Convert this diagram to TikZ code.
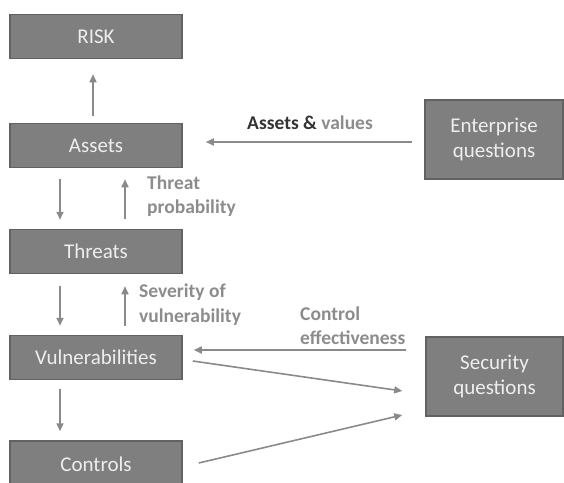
\documentclass[tikz,border=0pt]{standalone}
\usepackage{fontspec}
\setmainfont{Carlito}
\usetikzlibrary{arrows.meta}
\definecolor{boxgray}{RGB}{127,127,127}
\definecolor{boxedge}{RGB}{98,98,98}
\definecolor{linegray}{RGB}{138,138,138}
\definecolor{labelgray}{RGB}{140,140,140}
\definecolor{boxtext}{RGB}{238,238,238}

\begin{document}
\begin{tikzpicture}[x=1pt,y=-1pt,>={Triangle[length=8pt,width=7pt]},
  block/.style={draw=boxedge,line width=1.5pt,fill=boxgray,text=boxtext,
    font=\fontsize{21}{25}\selectfont,minimum width=172pt,minimum height=44pt,
    inner sep=0pt,align=center},
  flow/.style={->,draw=linegray,line width=1.6pt},
  tag/.style={text=labelgray,font=\bfseries\fontsize{19.5}{24.5}\selectfont,
    align=left,inner sep=0pt}]
  \useasboundingbox (0,0) rectangle (564,482);
  % left column
  \node[block] (risk) at (96,36.5) {RISK};
  \node[block] (assets) at (96,145.5) {Assets};
  \node[block] (threats) at (96,251.5) {Threats};
  \node[block] (vuln) at (96,357.5) {Vulnerabilities};
  \node[block,minimum height=46pt] (controls) at (96,464) {Controls};
  % question boxes
  \node[block,minimum width=138pt,minimum height=79pt] (enterprise) at (494,139.5) {Enterprise\\questions};
  \node[block,minimum width=137pt,minimum height=79pt] (security) at (494.5,376.5) {Security\\questions};
  % labels
  \node[tag,anchor=west] (probtag) at (147,196) {Threat\\probability};
  \node[tag,anchor=west] (sevtag) at (139,304.5) {Severity of\\vulnerability};
  \node[tag] (valtag) at (310,123) {{\color{black!80}Assets \&} values};
  \node[tag,anchor=west] (efftag) at (300,325.5) {Control\\effectiveness};
  % vertical arrows
  \draw[flow,shorten <=7pt,shorten >=15pt] ([xshift=-3pt]assets.north) -- ([xshift=-3pt]risk.south);
  \draw[flow,shorten <=11pt,shorten >=9pt] ([xshift=-36pt]assets.south) -- ([xshift=-36pt]threats.north);
  \draw[flow,shorten <=10pt,shorten >=11pt] ([xshift=29pt]threats.north) -- ([xshift=29pt]assets.south);
  \draw[flow,shorten <=12pt,shorten >=9pt] ([xshift=-36pt]threats.south) -- ([xshift=-36pt]vuln.north);
  \draw[flow,shorten <=9pt,shorten >=12pt] ([xshift=29pt]vuln.north) -- ([xshift=29pt]threats.south);
  \draw[flow,shorten <=9pt,shorten >=9pt] ([xshift=-36pt]vuln.south) -- ([xshift=-36pt]controls.north);
  % arrows from and to the questions
  \draw[flow,shorten <=12pt,shorten >=23pt] ([yshift=-2.5pt]enterprise.west) -- ([yshift=-2.5pt]enterprise.west -| assets.east);
  \draw[flow,shorten <=19pt,shorten >=11pt] ([yshift=26.5pt]security.west) -- ([yshift=26.5pt]security.west -| vuln.east);
  \draw[flow] ([shift={(10,3.5)}]vuln.east) -- ([shift={(-23,14.5)}]security.west);
  \draw[flow] ([shift={(16,-1)}]controls.east) -- ([shift={(-23,38.5)}]security.west);
\end{tikzpicture}
\end{document}
